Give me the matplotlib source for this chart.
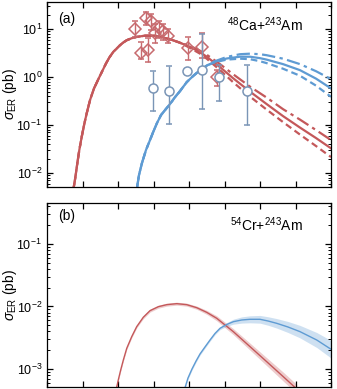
import matplotlib
matplotlib.use("Agg")
import matplotlib.pyplot as plt
import numpy as np

plt.rcParams["font.family"] = ["Liberation Sans", "DejaVu Sans"]
plt.rcParams["mathtext.fontset"] = "custom"
plt.rcParams["mathtext.rm"] = "Liberation Sans"
plt.rcParams["mathtext.it"] = "Liberation Sans:italic"
plt.rcParams["mathtext.bf"] = "Liberation Sans:bold"

RED    = "#c4585a"
BLUE   = "#5e9bd3"
GREYBL = "#7a95b6"
REDPT  = "#c76a6e"

# -- Panel (a): 48Ca+243Am -----------------------------------------------------
a_red_x = [23.70, 23.90, 24.08, 24.27, 24.55, 24.89, 25.25, 25.59, 26.06, 26.62,
           27.37, 27.85, 28.31, 28.78, 29.34, 29.82, 30.28, 30.75, 31.23, 31.93,
           32.63, 33.80, 35.21, 36.20, 37.32, 38.73, 40.14, 41.55, 42.49, 44.37,
           46.20, 48.59, 50.94, 53.24, 55.63, 57.89, 60.00]
a_red_rise = [0.00443, 0.00659, 0.0100, 0.0159, 0.0301, 0.0570, 0.105, 0.175, 0.332, 0.582,
              1.00, 1.40, 1.93, 2.57, 3.37, 3.96, 4.64, 5.29, 5.90, 6.49,
              6.92, 7.33, 7.33, 6.81, 6.19, 5.23]
a_red_solid   = a_red_rise + [4.28, 3.32, 2.67, 1.62, 0.953, 0.499, 0.274, 0.154, 0.0887, 0.0536, 0.0327]
a_red_dashdot = a_red_rise + [4.49, 3.56, 2.94, 1.87, 1.155, 0.634, 0.374, 0.215, 0.130, 0.0787, 0.0487]
a_red_dashed  = a_red_rise + [4.07, 3.09, 2.43, 1.40, 0.787, 0.393, 0.210, 0.1155, 0.0634, 0.0365, 0.0215]

a_blue_x = [32.63, 32.96, 33.38, 33.94, 34.51, 34.97, 35.49, 36.06, 36.62, 37.32,
            38.03, 38.73, 39.68, 40.56, 41.55, 42.49, 43.66, 45.31, 47.18, 48.59,
            50.00, 50.94, 53.24, 55.63, 57.89, 60.00]
a_blue_rise = [0.00443, 0.00908, 0.0162, 0.0301, 0.0487, 0.0724, 0.110, 0.162, 0.205, 0.274,
               0.383, 0.511, 0.787, 1.05, 1.40, 1.74]
a_blue_solid   = a_blue_rise + [2.10, 2.45, 2.67, 2.67, 2.49, 2.32, 1.87, 1.40, 0.931, 0.582]
a_blue_dashdot = a_blue_rise + [2.15, 2.64, 3.01, 3.09, 3.01, 2.87, 2.43, 1.87, 1.33, 0.909]
a_blue_dashed  = a_blue_rise + [2.05, 2.32, 2.43, 2.37, 2.15, 1.96, 1.50, 1.07, 0.665, 0.389]

# measured points (open diamonds / open circles) with error limits
dia_x  = [32.39, 33.94, 34.65, 33.24, 34.23, 35.21, 35.77, 36.34, 37.04, 39.86, 41.83, 43.94]
dia_y  = [10.0, 16.9, 14.7, 3.16, 3.65, 8.25, 10.5, 9.1, 7.15, 4.0, 4.2, 1.0]
dia_hi = [14.7, 22.6, 20.5, 5.4, 6.5, 12.7, 14.7, 12.7, 10.0, 6.8, 8.25, 1.4]
dia_lo = [6.8, 12.1, 9.5, 2.37, 2.05, 5.1, 6.5, 5.9, 5.1, 2.26, 2.49, 0.65]

cir_x  = [34.93, 37.18, 39.72, 41.83, 44.23, 48.17]
cir_y  = [0.59, 0.51, 1.33, 1.40, 1.00, 0.51]
cir_hi = [1.33, 1.69, 1.33, 7.9, 1.78, 1.78]
cir_lo = [0.196, 0.105, 1.33, 0.215, 0.316, 0.10]

# -- Panel (b): 54Cr+243Am -----------------------------------------------------
b_red_x = [29.76, 30.04, 30.38, 30.75, 31.23, 31.93, 32.63, 33.56, 34.51, 35.68,
           36.86, 38.27, 39.68, 41.09, 42.49, 43.90, 46.24, 48.59, 50.94, 53.28, 55.17]
b_red_y = [4.79e-4, 6.67e-4, 9.64e-4, 1.39e-3, 2.14e-3, 3.29e-3, 4.75e-3, 6.72e-3, 8.58e-3, 9.93e-3,
           1.07e-2, 1.11e-2, 1.07e-2, 9.57e-3, 8.07e-3, 6.48e-3, 3.96e-3, 2.28e-3, 1.31e-3, 7.53e-4, 4.79e-4]
# band half-width in decades
b_red_dex = [0.02, 0.02, 0.02, 0.02, 0.02, 0.02, 0.02, 0.024, 0.024, 0.024,
             0.024, 0.024, 0.024, 0.026, 0.032, 0.04, 0.048, 0.056, 0.064, 0.072, 0.072]

b_blue_x = [39.38, 39.86, 40.42, 40.99, 41.55, 42.25, 42.96, 43.66, 44.37, 45.31,
            46.24, 47.42, 48.59, 50.00, 51.13, 52.35, 53.94, 55.63, 57.99, 60.00]
b_blue_y = [4.79e-4, 7.18e-4, 1.00e-3, 1.34e-3, 1.74e-3, 2.25e-3, 2.91e-3, 3.70e-3, 4.48e-3, 5.15e-3,
            5.71e-3, 6.08e-3, 6.24e-3, 6.24e-3, 5.86e-3, 5.38e-3, 4.70e-3, 3.96e-3, 2.91e-3, 2.07e-3]
b_blue_dex = [0.02, 0.02, 0.02, 0.02, 0.02, 0.02, 0.02, 0.02, 0.022, 0.03,
              0.04, 0.05, 0.056, 0.062, 0.068, 0.076, 0.088, 0.10, 0.12, 0.14]

X_TICKS = [20, 25, 30, 35, 40, 45, 50, 55, 60]


def _style(ax, ylim):
    ax.set_yscale("log")
    ax.set_xlim(20, 60)
    ax.set_ylim(*ylim)
    ax.set_xticks(X_TICKS)
    ax.tick_params(which="both", direction="in", top=True, right=True,
                   labelbottom=False, labelsize=9)
    ax.tick_params(which="major", length=4, width=0.9)
    ax.tick_params(which="minor", length=2, width=0.7)
    ax.yaxis.set_minor_locator(matplotlib.ticker.LogLocator(base=10, subs=np.arange(2, 10)))
    ax.set_ylabel(r"$\sigma_{\rm ER}$ (pb)", fontsize=10)
    ax.yaxis.set_label_coords(-0.10, 0.5)
    for s in ax.spines.values():
        s.set_linewidth(0.9)


fig = plt.figure(figsize=(3.37, 3.89), dpi=100)
W, H = 337, 389
ax1 = fig.add_axes([47 / W, 1 - 187 / H, 284 / W, 185 / H])
ax2 = fig.add_axes([47 / W, 1 - 387 / H, 284 / W, 184 / H])

# panel (a)
lw = 1.6
DASHDOT = (0, (6, 2, 1.5, 2))
DASHED = (0, (3, 1.8))
ax1.plot(a_red_x, a_red_solid, color=RED, lw=lw)
ax1.plot(a_red_x, a_red_dashdot, color=RED, lw=lw, ls=DASHDOT)
ax1.plot(a_red_x, a_red_dashed, color=RED, lw=lw, ls=DASHED)
ax1.plot(a_blue_x, a_blue_solid, color=BLUE, lw=lw)
ax1.plot(a_blue_x, a_blue_dashdot, color=BLUE, lw=lw, ls=DASHDOT)
ax1.plot(a_blue_x, a_blue_dashed, color=BLUE, lw=lw, ls=DASHED)

dy = np.array(dia_y)
ax1.errorbar(dia_x, dia_y, yerr=[dy - np.array(dia_lo), np.array(dia_hi) - dy],
             fmt="D", ms=6.5, mfc="none", mec=REDPT, mew=1.1, ecolor=REDPT,
             elinewidth=1.0, capsize=2.5, capthick=1.0, zorder=4)
cy = np.array(cir_y)
ax1.errorbar(cir_x, cir_y, yerr=[cy - np.array(cir_lo), np.array(cir_hi) - cy],
             fmt="o", ms=6.5, mfc="white", mec=GREYBL, mew=1.1, ecolor=GREYBL,
             elinewidth=1.0, capsize=2.5, capthick=1.0, zorder=5)

_style(ax1, (5.1e-3, 37))
ax1.text(0.04, 0.91, "(a)", transform=ax1.transAxes, fontsize=10, va="center")
ax1.text(0.90, 0.875, r"$^{48}$Ca+$^{243}$Am", transform=ax1.transAxes,
         fontsize=10, ha="right", va="center")

# panel (b)
ry, rd = np.array(b_red_y), np.array(b_red_dex)
ax2.fill_between(b_red_x, ry / 10 ** rd, ry * 10 ** rd, color=RED, alpha=0.3, lw=0)
ax2.plot(b_red_x, b_red_y, color=RED, lw=1.0)
by, bd = np.array(b_blue_y), np.array(b_blue_dex)
ax2.fill_between(b_blue_x, by / 10 ** bd, by * 10 ** bd, color=BLUE, alpha=0.3, lw=0)
ax2.plot(b_blue_x, b_blue_y, color=BLUE, lw=1.0)

_style(ax2, (5.15e-4, 0.453))
ax2.text(0.04, 0.93, "(b)", transform=ax2.transAxes, fontsize=10, va="center")
ax2.text(0.90, 0.88, r"$^{54}$Cr+$^{243}$Am", transform=ax2.transAxes,
         fontsize=10, ha="right", va="center")

fig.savefig("out.png", dpi=100)
